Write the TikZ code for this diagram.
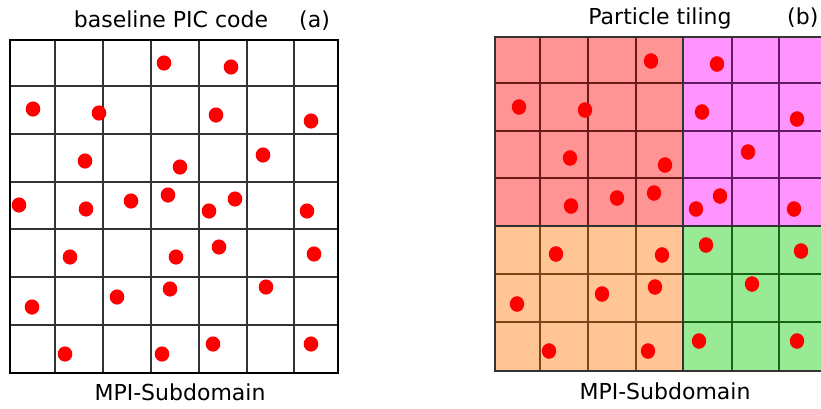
\documentclass[tikz,border=0pt]{standalone}
\usepackage{fontspec}
\setmainfont{DejaVu Sans}
\usepackage{tikz}

\definecolor{tilered}{RGB}{255,148,148}
\definecolor{tilemag}{RGB}{255,148,255}
\definecolor{tileorange}{RGB}{255,197,148}
\definecolor{tilegreen}{RGB}{152,234,148}
\definecolor{linered}{RGB}{110,25,25}
\definecolor{linemag}{RGB}{100,25,100}
\definecolor{lineorange}{RGB}{120,70,25}
\definecolor{linegreen}{RGB}{25,100,25}

\tikzset{
    label/.style={font=\fontsize{22}{26}\selectfont, anchor=base, inner sep=0pt},
    gridline/.style={line width=1.3pt},
    particle/.style={fill=red}
}

\begin{document}
\begin{tikzpicture}[x=1pt, y=-1pt]

    % Margini della figura
    \useasboundingbox (0,0) rectangle (821,408);

    % Titoli ed etichette
    \node[label] (titleA) at (171,27) {baseline PIC code};
    \node[label, anchor=base west] (tagA) at (299,27) {(a)};
    \node[label] (subA) at (180,400) {MPI-Subdomain};
    \node[label] (titleB) at (660,24) {Particle tiling};
    \node[label, anchor=base west] (tagB) at (787,24) {(b)};
    \node[label] (subB) at (665,399) {MPI-Subdomain};

    % Griglia (a): codice PIC di base
    \foreach \x in {55,103,151,199,247,294}
        \draw[gridline, black!80] (\x,40) -- (\x,373);
    \foreach \y in {86,134,182,229,277,325}
        \draw[gridline, black!80] (10,\y) -- (338,\y);
    \draw[gridline, black] (10,40) rectangle (338,373);

    % Griglia (b): tile colorati
    \fill[tilered] (495,37) rectangle (683,226);
    \fill[tilemag] (683,37) rectangle (821,226);
    \fill[tileorange] (495,226) rectangle (683,371);
    \fill[tilegreen] (683,226) rectangle (821,371);
    \foreach \x in {540,588,636}
        \draw[gridline, linered] (\x,37) -- (\x,226);
    \foreach \y in {83,131,178}
        \draw[gridline, linered] (495,\y) -- (683,\y);
    \foreach \x in {732,779}
        \draw[gridline, linemag] (\x,37) -- (\x,226);
    \foreach \y in {83,131,178}
        \draw[gridline, linemag] (683,\y) -- (821,\y);
    \foreach \x in {540,588,636}
        \draw[gridline, lineorange] (\x,226) -- (\x,371);
    \foreach \y in {274,322}
        \draw[gridline, lineorange] (495,\y) -- (683,\y);
    \foreach \x in {732,779}
        \draw[gridline, linegreen] (\x,226) -- (\x,371);
    \foreach \y in {274,322}
        \draw[gridline, linegreen] (683,\y) -- (821,\y);
    \draw[gridline, black!80] (683,37) -- (683,371);
    \draw[gridline, black!80] (495,226) -- (821,226);
    \draw[gridline, black!80] (821,37) -- (495,37) -- (495,371) -- (821,371);

    % Particelle (a)
    \foreach \px/\py in {164/63, 231/67, 33/109, 99/113, 216/115, 311/121,
        85/161, 180/167, 263/155, 19/205, 86/209, 131/201, 168/195, 209/211,
        235/199, 307/211, 70/257, 176/257, 219/247, 314/254, 32/307, 117/297,
        170/289, 266/287, 65/354, 162/354, 213/344, 311/344}
        \fill[particle] (\px,\py) ellipse (7.3 and 7.6);

    % Particelle (b)
    \foreach \px/\py in {651/61, 717/64, 519/107, 585/110, 702/112, 797/119,
        570/158, 665/165, 748/152, 571/206, 617/198, 654/193, 696/209,
        720/196, 794/209, 556/254, 662/255, 706/245, 801/251, 517/304,
        602/294, 655/287, 752/284, 549/351, 648/351, 699/341, 797/341}
        \fill[particle] (\px,\py) ellipse (7.2 and 7.8);

\end{tikzpicture}
\end{document}
